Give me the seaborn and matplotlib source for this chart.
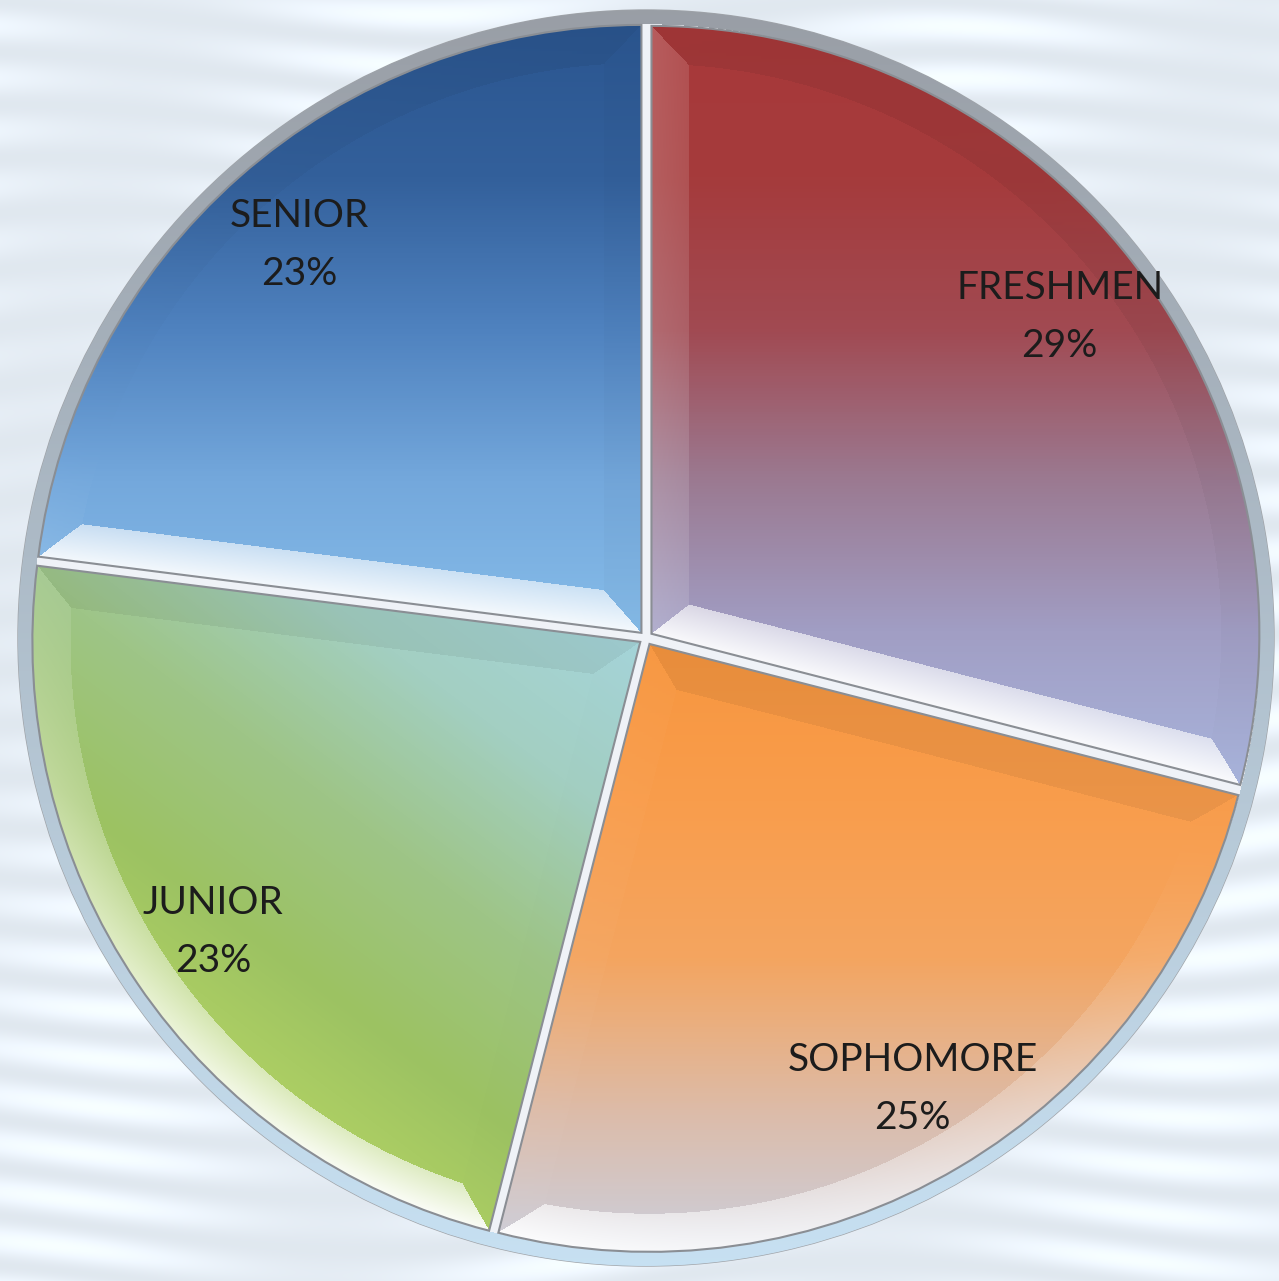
import numpy as np
import matplotlib.pyplot as plt
import seaborn as sns
from matplotlib.patches import Circle

sns.set_theme(style="white")
plt.rcParams['font.family'] = ['Lato', 'DejaVu Sans']

# Data
classes = ["FRESHMEN", "SOPHOMORE", "JUNIOR", "SENIOR"]
shares = [29, 25, 23, 23]

# Gradient stops per slice (from start to end of the gradient direction)
slice_stops = [
    ["#a8393a", "#a53b3c", "#a14a52", "#9b7a92", "#a19ec4", "#a8b4dc"],   # freshmen, top -> bottom
    ["#f7963f", "#f99d4c", "#f4a560", "#dcbcaa", "#c9d2e4"],              # sophomore, top -> bottom
    ["#b4d464", "#9cc262", "#9ec587", "#a3cfc2", "#a6d5da"],              # junior, lower-left -> upper-right
    ["#2b5690", "#33609b", "#4f82bf", "#74a8dc", "#86bce9"],              # senior, top -> bottom
]
slice_dirs = [(0, -1), (0, -1), (0.6, 0.8), (0, -1)]

# Geometry in pixels of the output
W, H = 1279, 1281
cx_px, cy_px, r_px = 646, 638, 628
x0, x1 = -cx_px / r_px, (W - cx_px) / r_px
y0, y1 = -(H - cy_px) / r_px, cy_px / r_px

fig = plt.figure(figsize=(W / 100, H / 100), dpi=100)
ax = fig.add_axes([0, 0, 1, 1])

xs = np.linspace(x0, x1, W)
ys = np.linspace(y1, y0, H)
X, Y = np.meshgrid(xs, ys)
ext = (x0, x1, y0, y1)

# Background: pale icy water
bg = np.ones(X.shape + (3,)) * np.array([0.88, 0.91, 0.94])
streak = (0.5 + 0.5 * np.sin(Y * 75 + 2.5 * np.sin(X * 4.1 + Y * 3))) * \
         (0.6 + 0.4 * np.sin(X * 7.3 - Y * 2.2))
bg = np.clip(bg + 0.09 * streak[..., None], 0, 1)
ax.imshow(bg, extent=ext, origin='upper', zorder=0, aspect='auto')

# Rim disc under the slices
R0 = np.hypot(X, Y)
rim_t = ((1 - Y) / 2).clip(0, 1)[..., None]
rim_col = np.array([0.60, 0.62, 0.65]) * (1 - rim_t) + np.array([0.78, 0.88, 0.95]) * rim_t
inner = np.array([0.94, 0.95, 0.97])
disc = np.where((R0 > 0.978)[..., None], rim_col, inner)
disc_patch = Circle((0, 0), 1.0, facecolor='none', edgecolor='#a0a4a9', linewidth=1.0, zorder=1)
ax.add_patch(disc_patch)
im = ax.imshow(disc, extent=ext, origin='upper', zorder=1, aspect='auto')
im.set_clip_path(disc_patch)

wedges, texts = ax.pie(
    shares,
    labels=[f"{c}\n{p}%" for c, p in zip(classes, shares)],
    startangle=90,
    counterclock=False,
    radius=0.968,
    explode=[0.011] * 4,
    labeldistance=0.85,
    wedgeprops=dict(facecolor='none', edgecolor='#8a8e94', linewidth=1.5, zorder=3),
    textprops=dict(fontsize=28, color='#1c1c1c', linespacing=1.75, zorder=5),
)

L = np.array([-0.33, -0.94])
bevel = 0.06

for w, stops, (ux, uy) in zip(wedges, slice_stops, slice_dirs):
    cx, cy = w.center
    R = w.r
    t1, t2 = w.theta1, w.theta2
    dx, dy = X - cx, Y - cy
    r = np.hypot(dx, dy)
    ang = np.arctan2(dy, dx)
    span = np.radians(t2 - t1)
    phi = np.radians((np.degrees(ang) - t1) % 360)

    proj = dx * ux + dy * uy
    verts = w.get_path().vertices
    pv = (verts[:, 0] - cx) * ux + (verts[:, 1] - cy) * uy
    t = np.clip((proj - pv.min()) / (pv.max() - pv.min()), 0, 1)
    cmap = sns.blend_palette(stops, as_cmap=True)
    rgb = cmap(t)[..., :3]

    d_arc = R - r
    d1 = np.where(phi < np.pi / 2, r * np.sin(phi), r)
    d2 = np.where(span - phi < np.pi / 2, r * np.sin(span - phi), r)
    dist = np.stack([d_arc, d1, d2])
    k = dist.argmin(0)
    dmin = dist.min(0)
    n_ang = np.where(k == 0, ang, np.where(k == 1, np.radians(t1 - 90), np.radians(t2 + 90)))
    s = (np.cos(n_ang) * L[0] + np.sin(n_ang) * L[1])[..., None]
    # inner part of the bevel a bit brighter on lit faces
    ramp = (1 - 0.35 * (dmin / bevel))[..., None]
    lit = np.where(s > 0, rgb + (1 - rgb) * np.clip(0.95 * s ** 1.5 * ramp, 0, 1),
                   rgb * (1 + 0.06 * s))
    rgb = np.where((dmin < bevel)[..., None], lit, rgb)

    wim = ax.imshow(rgb, extent=ext, origin='upper', zorder=2, aspect='auto',
                    interpolation='bilinear')
    wim.set_clip_path(w)

for txt in texts:
    txt.set_horizontalalignment('center')
    txt.set_verticalalignment('center')
    txt.set_multialignment('center')

ax.set_xlim(x0, x1)
ax.set_ylim(y0, y1)
ax.set_aspect('auto')
ax.axis('off')

fig.savefig("out.png", dpi=100)
